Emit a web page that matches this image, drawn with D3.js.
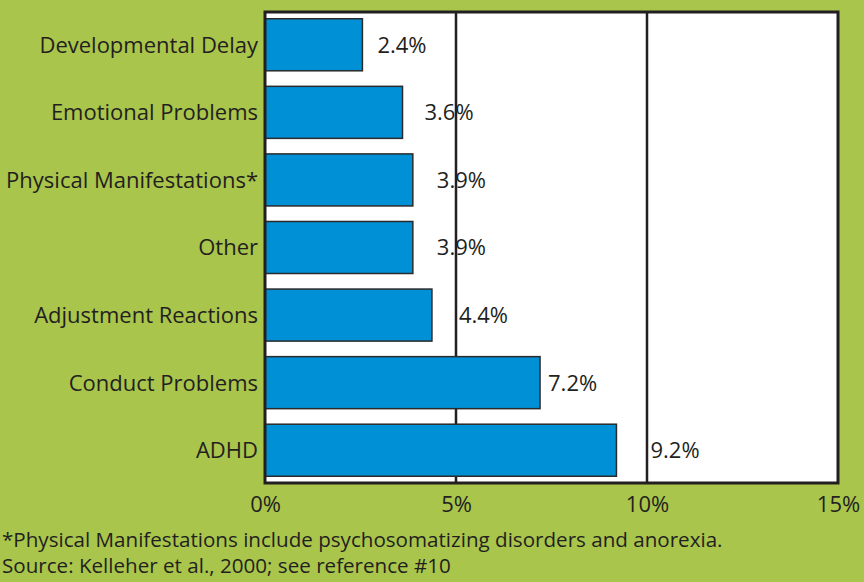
<!DOCTYPE html>
<html>
<head>
<meta charset="utf-8">
<script src="https://cdn.jsdelivr.net/npm/d3@7"></script>
<style>
  body { margin: 0; background: #a9c54b; }
  text { font-family: "Open Sans", sans-serif; fill: #231f20; }
</style>
</head>
<body>
<div id="chart"></div>
<script>
var w = 864;
var h = 582;

// categories top to bottom
var categories = ["Developmental Delay", "Emotional Problems", "Physical Manifestations*",
    "Other", "Adjustment Reactions", "Conduct Problems", "ADHD"];
// bar lengths as drawn (percent)
var values = [2.55, 3.6, 3.87, 3.87, 4.37, 7.2, 9.2];
// printed value labels
var valueLabels = ["2.4%", "3.6%", "3.9%", "3.9%", "4.4%", "7.2%", "9.2%"];
var ticks = [0, 5, 10, 15];
var footnotes = ["*Physical Manifestations include psychosomatizing disorders and anorexia.",
    "Source: Kelleher et al., 2000; see reference #10"];

var barColor = "#0090d5";
var lineColor = "#231f20";
// extra space between bar end and its label (labels were placed by hand)
var labelNudge = [15, 22, 24, 24, 27, 8, 34];

var plot = {left: 265, right: 838, top: 12, bottom: 483};

var svg = d3.select("#chart")
    .append("svg")
    .attr("width", w)
    .attr("height", h);

svg.append("rect")
    .attr("width", w).attr("height", h)
    .attr("fill", "#a9c54b");

var x = d3.scaleLinear()
    .domain([0, 15])
    .range([plot.left, plot.right]);

var y = d3.scaleBand()
    .domain(categories)
    .range([plot.top, plot.bottom])
    .paddingInner(0.23)
    .paddingOuter(0.1);

//white plot area
svg.append("rect")
    .attr("x", plot.left).attr("y", plot.top)
    .attr("width", plot.right - plot.left)
    .attr("height", plot.bottom - plot.top)
    .attr("fill", "#fff");

//gridlines at 5 and 10
svg.selectAll(".grid")
    .data([5, 10])
    .enter()
    .append("line")
    .attr("class", "grid")
    .attr("x1", function (d) { return x(d); })
    .attr("x2", function (d) { return x(d); })
    .attr("y1", plot.top)
    .attr("y2", plot.bottom)
    .attr("stroke", lineColor)
    .attr("stroke-width", 2.5);

//bars
svg.selectAll(".bar")
    .data(categories)
    .enter()
    .append("rect")
    .attr("class", "bar")
    .attr("x", x(0))
    .attr("y", function (d) { return y(d); })
    .attr("width", function (d, i) { return x(values[i]) - x(0); })
    .attr("height", y.bandwidth())
    .attr("fill", barColor)
    .attr("stroke", "#2a2a2a")
    .attr("stroke-width", 1.5);

//frame
svg.append("rect")
    .attr("x", plot.left).attr("y", plot.top)
    .attr("width", plot.right - plot.left)
    .attr("height", plot.bottom - plot.top)
    .attr("fill", "none")
    .attr("stroke", lineColor)
    .attr("stroke-width", 3);

//value labels
svg.selectAll(".val")
    .data(categories)
    .enter()
    .append("text")
    .attr("class", "val")
    .attr("x", function (d, i) { return x(values[i]) + labelNudge[i]; })
    .attr("y", function (d) { return y(d) + y.bandwidth() / 2; })
    .attr("dy", "0.36em")
    .style("font-size", "22px")
    .text(function (d, i) { return valueLabels[i]; });

//category labels
svg.selectAll(".cat")
    .data(categories)
    .enter()
    .append("text")
    .attr("class", "cat")
    .attr("x", plot.left - 7)
    .attr("y", function (d) { return y(d) + y.bandwidth() / 2; })
    .attr("dy", "0.36em")
    .attr("text-anchor", "end")
    .style("font-size", "22px")
    .text(function (d) { return d; });

//x axis labels
var axis = svg.append("g")
    .attr("transform", "translate(0," + plot.bottom + ")")
    .call(d3.axisBottom(x).tickValues(ticks).tickSize(0).tickPadding(13)
        .tickFormat(function (d) { return d + "%"; }));
axis.select(".domain").remove();
axis.selectAll("text")
    .style("font-family", "'Open Sans', sans-serif")
    .style("font-size", "22px")
    .attr("fill", lineColor);

//footnotes
svg.selectAll(".foot")
    .data(footnotes)
    .enter()
    .append("text")
    .attr("class", "foot")
    .attr("x", 2)
    .attr("y", function (d, i) { return 547 + i * 26; })
    .style("font-size", "20.6px")
    .text(function (d) { return d; });
</script>
</body>
</html>
